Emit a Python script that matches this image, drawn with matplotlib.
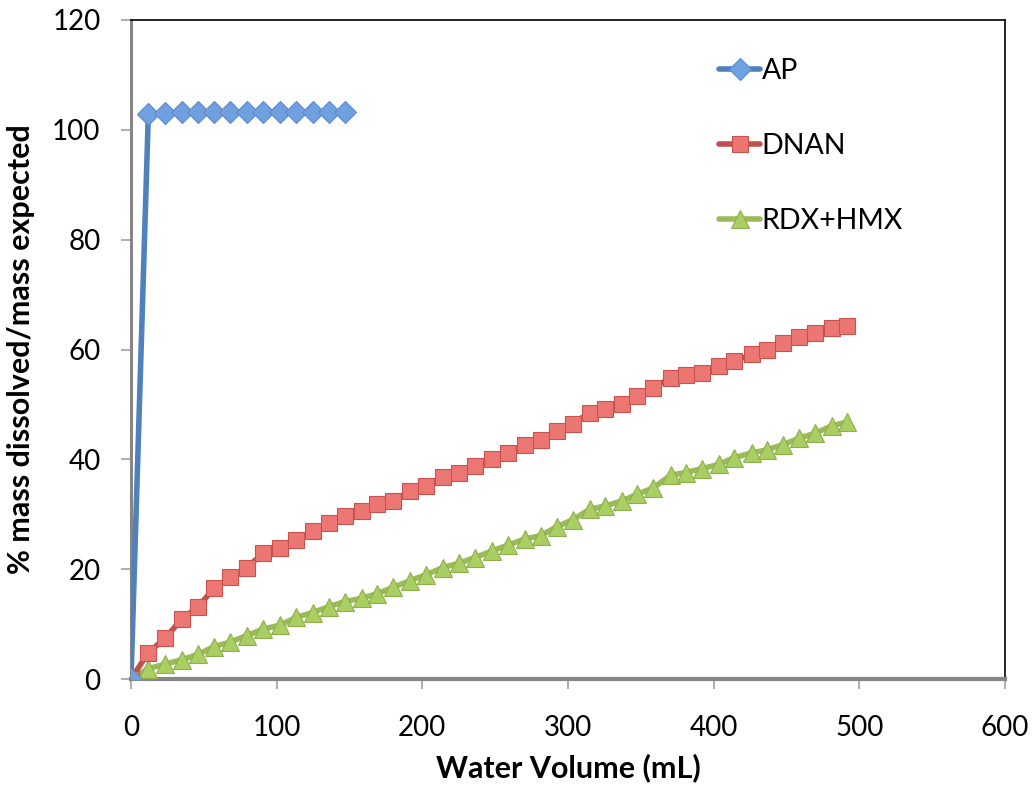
import numpy as np
import matplotlib
matplotlib.use("Agg")
import matplotlib.pyplot as plt

plt.rcParams['font.family'] = ['Lato', 'DejaVu Sans']

# water volume (mL) at each sampling step, shared by all series
volume = [0, 11.9, 23.3, 34.8, 46.2, 57.0, 67.9, 79.4, 90.8, 102.3,
          113.2, 124.7, 136.1, 146.9, 158.3, 168.6, 180.0, 191.5, 202.5, 214.3,
          225.3, 236.1, 247.6, 259.0, 270.4, 281.2, 292.2, 303.2, 315.0, 325.3,
          336.8, 347.1, 358.5, 370.4, 380.7, 392.1, 403.6, 414.1, 426.4, 436.3,
          447.7, 458.5, 469.9, 481.3, 491.2]

ap = [0, 102.9, 103.1, 103.2, 103.2, 103.2, 103.2, 103.2, 103.3, 103.3,
      103.3, 103.3, 103.3, 103.3]

dnan = [0, 4.8, 7.4, 10.9, 13.2, 16.5, 18.5, 20.3, 22.9, 23.9,
        25.3, 26.9, 28.4, 29.7, 30.6, 31.8, 32.4, 34.2, 35.2, 36.8,
        37.6, 38.8, 40.0, 41.2, 42.7, 43.6, 45.2, 46.5, 48.5, 49.1,
        50.0, 51.5, 52.9, 54.9, 55.3, 55.8, 57.0, 57.9, 59.1, 60.0,
        61.2, 62.3, 63.0, 63.9, 64.2]

rdx_hmx = [0, 1.9, 2.7, 3.5, 4.5, 5.9, 6.7, 7.9, 9.1, 9.8,
           11.2, 12.1, 13.2, 14.1, 14.7, 15.5, 16.7, 17.9, 19.0, 20.3,
           21.1, 22.1, 23.3, 24.4, 25.5, 26.1, 27.7, 29.0, 30.9, 31.5,
           32.4, 33.6, 34.8, 37.1, 37.6, 38.3, 39.1, 40.3, 41.2, 41.7,
           42.7, 43.8, 44.8, 46.1, 46.8]

fig = plt.figure(figsize=(10.36, 7.87), dpi=100, facecolor='white')
ax = fig.add_axes([131/1036, 1 - 679/787, 874/1036, 659/787])

# series drawn back to front like the original
ax.plot(volume[:len(rdx_hmx)], rdx_hmx, color='#9BBB59', lw=4, marker='^',
        ms=13, mfc='#A9CF62', mec='#8FAF4E', mew=0.8, label='RDX+HMX',
        solid_capstyle='round', zorder=3)
ax.plot(volume[:len(dnan)], dnan, color='#C0504D', lw=4, marker='s',
        ms=12, mfc='#EC7672', mec='#C9524F', mew=0.8, label='DNAN',
        solid_capstyle='round', zorder=4)
ax.plot(volume[:len(ap)], ap, color='#4F81BD', lw=4, marker='D',
        ms=11, mfc='#6FA0E0', mec='#5B8CCB', mew=0.8, label='AP',
        solid_capstyle='round', zorder=5)

ax.set_xlim(0, 600)
ax.set_ylim(0, 120)
ax.set_xticks(np.arange(0, 601, 100))
ax.set_yticks(np.arange(0, 121, 20))

for side in ['top', 'right']:
    ax.spines[side].set_color('black')
    ax.spines[side].set_linewidth(1.2)
ax.spines['left'].set_color('#868686')
ax.spines['left'].set_linewidth(2.2)
ax.spines['bottom'].set_color('#868686')
ax.spines['bottom'].set_linewidth(3)

ax.tick_params(axis='both', direction='out', length=7, width=1.2,
               color='#A0A0A0', labelsize=20, labelcolor='black')
ax.tick_params(axis='y', pad=15)
ax.tick_params(axis='x', pad=19)

ax.set_xlabel('Water Volume (mL)', fontsize=22, fontweight='bold', labelpad=9)
ax.set_ylabel('% mass dissolved/mass expected', fontsize=22,
              fontweight='bold', labelpad=12)

handles, labels = ax.get_legend_handles_labels()
leg = ax.legend(handles[::-1], labels[::-1], loc='upper left',
                bbox_to_anchor=((719 - 131) / 874, (679 - 58) / 659),
                frameon=False, fontsize=20.5, handlelength=1.45,
                handletextpad=0.05, labelspacing=1.72, borderaxespad=0,
                borderpad=0)

fig.savefig('out.png', dpi=100, facecolor='white')
